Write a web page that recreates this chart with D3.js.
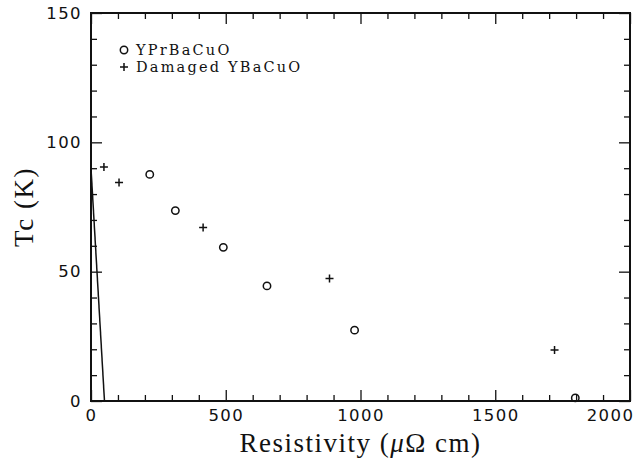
<!DOCTYPE html>
<html>
<head>
<meta charset="utf-8">
<script src="https://cdn.jsdelivr.net/npm/d3@7"></script>
<style>
  body { margin: 0; background: #fff; }
  .tick text { font-family: "DejaVu Sans", sans-serif; font-size: 16.5px; fill: #111; letter-spacing: 1.4px; }
  .title { font-family: "Liberation Serif", "DejaVu Serif", serif; font-size: 27px; fill: #111; letter-spacing: 1.5px; }
  .legend-label { font-family: "DejaVu Serif", serif; font-size: 14.5px; fill: #111; letter-spacing: 2.2px; }
</style>
</head>
<body>
<div id="chart"></div>
<script>
// YPrBaCuO (circles)
const prRho = [218, 313, 491, 653, 978, 1797];
const prTc  = [87.6, 73.6, 59.4, 44.5, 27.4, 1.2];
// Damaged YBaCuO (plus)
const dmgRho = [48, 104, 416, 885, 1720];
const dmgTc  = [90.5, 84.5, 67.1, 47.4, 19.7];
// straight line near the origin
const lineRho = [0, 50];
const lineTc  = [90, 0];

const xMajor = [0, 500, 1000, 1500, 2000];
const yMajor = [0, 50, 100, 150];
const legendNames = ['YPrBaCuO', 'Damaged YBaCuO'];

const width = 644, height = 463;
const margin = { top: 13, right: 14, bottom: 62, left: 91 };

const svg = d3.select('#chart').append('svg')
  .attr('width', width)
  .attr('height', height);

const x = d3.scaleLinear().domain([0, 2000]).range([margin.left, width - margin.right]);
const y = d3.scaleLinear().domain([0, 150]).range([height - margin.bottom, margin.top]);

const xMinor = d3.range(0, 2001, 100).filter(v => !xMajor.includes(v));
const yMinor = d3.range(0, 151, 10).filter(v => !yMajor.includes(v));

// axes, ticks pointing inward on all four sides
function styleAxis(g) {
  g.select('.domain').remove();
  g.selectAll('.tick line').attr('stroke', '#111').attr('stroke-width', 1.3);
}
const yBot = y(0), yTop = y(150), xLeft = x(0), xRight = x(2000);

svg.append('g').attr('transform', `translate(0,${yBot})`)
  .call(d3.axisBottom(x).tickValues(xMajor).tickSize(-11).tickPadding(8).tickFormat(d3.format('d')))
  .call(styleAxis)
  .call(g => g.selectAll('.tick').filter(d => d === 2000).select('text').attr('x', -20));
svg.append('g').attr('transform', `translate(0,${yBot})`)
  .call(d3.axisBottom(x).tickValues(xMinor).tickSize(-6).tickFormat(''))
  .call(styleAxis);
svg.append('g').attr('transform', `translate(0,${yTop})`)
  .call(d3.axisTop(x).tickValues(xMajor).tickSize(-11).tickFormat(''))
  .call(styleAxis);
svg.append('g').attr('transform', `translate(0,${yTop})`)
  .call(d3.axisTop(x).tickValues(xMinor).tickSize(-6).tickFormat(''))
  .call(styleAxis);

svg.append('g').attr('transform', `translate(${xLeft},0)`)
  .call(d3.axisLeft(y).tickValues(yMajor).tickSize(-11).tickPadding(9).tickFormat(d3.format('d')))
  .call(styleAxis);
svg.append('g').attr('transform', `translate(${xLeft},0)`)
  .call(d3.axisLeft(y).tickValues(yMinor).tickSize(-6).tickFormat(''))
  .call(styleAxis);
svg.append('g').attr('transform', `translate(${xRight},0)`)
  .call(d3.axisRight(y).tickValues(yMajor).tickSize(-11).tickFormat(''))
  .call(styleAxis);
svg.append('g').attr('transform', `translate(${xRight},0)`)
  .call(d3.axisRight(y).tickValues(yMinor).tickSize(-6).tickFormat(''))
  .call(styleAxis);

// frame
svg.append('rect')
  .attr('x', xLeft).attr('y', yTop)
  .attr('width', xRight - xLeft).attr('height', yBot - yTop)
  .attr('fill', 'none').attr('stroke', '#111').attr('stroke-width', 2);

// line
svg.append('path')
  .datum(d3.zip(lineRho, lineTc))
  .attr('fill', 'none').attr('stroke', '#111').attr('stroke-width', 1.5)
  .attr('d', d3.line().x(d => x(d[0])).y(d => y(d[1])));

// circles
svg.append('g').selectAll('circle')
  .data(d3.zip(prRho, prTc))
  .join('circle')
  .attr('cx', d => x(d[0])).attr('cy', d => y(d[1]))
  .attr('r', 3.7)
  .attr('fill', 'none').attr('stroke', '#111').attr('stroke-width', 1.5);

// pluses
function plusPath(s) { return `M${-s},0H${s}M0,${-s}V${s}`; }
svg.append('g').selectAll('path')
  .data(d3.zip(dmgRho, dmgTc))
  .join('path')
  .attr('transform', d => `translate(${x(d[0])},${y(d[1])})`)
  .attr('d', plusPath(4))
  .attr('fill', 'none').attr('stroke', '#111').attr('stroke-width', 1.5);

// legend
const rowGap = 17;
const legend = svg.append('g').attr('transform', 'translate(124,50)');
legend.append('circle').attr('r', 3.7)
  .attr('fill', 'none').attr('stroke', '#111').attr('stroke-width', 1.5);
legend.append('path').attr('transform', `translate(0,${rowGap})`).attr('d', plusPath(4))
  .attr('fill', 'none').attr('stroke', '#111').attr('stroke-width', 1.5);
legend.selectAll('.legend-label')
  .data(legendNames)
  .join('text')
  .attr('class', 'legend-label')
  .attr('x', 12)
  .attr('y', (d, i) => i * rowGap)
  .attr('dy', '0.35em')
  .text(d => d);

// axis titles
const xt = svg.append('text').attr('class', 'title')
  .attr('x', (xLeft + xRight) / 2).attr('y', 452)
  .attr('text-anchor', 'middle');
xt.append('tspan').text('Resistivity (');
xt.append('tspan').attr('font-style', 'italic').text('μ');
xt.append('tspan').text('Ω cm)');

svg.append('text').attr('class', 'title')
  .attr('transform', `translate(33,${(yTop + yBot) / 2}) rotate(-90)`)
  .attr('text-anchor', 'middle')
  .text('Tc (K)');
</script>
</body>
</html>
